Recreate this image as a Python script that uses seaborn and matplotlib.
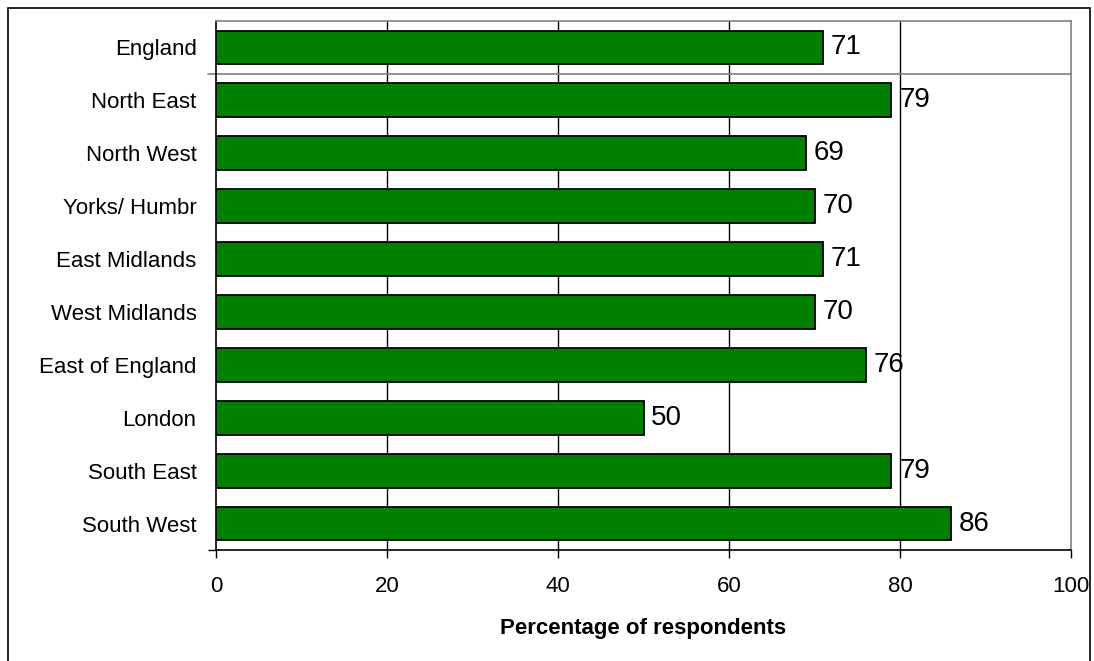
import matplotlib
matplotlib.use("Agg")
import matplotlib.pyplot as plt
from matplotlib.patches import Rectangle
import seaborn as sns
import pandas as pd

regions = ["England", "North East", "North West", "Yorks/ Humbr", "East Midlands",
           "West Midlands", "East of England", "London", "South East", "South West"]
percentages = [71, 79, 69, 70, 71, 70, 76, 50, 79, 86]
x_ticks = [0, 20, 40, 60, 80, 100]

df = pd.DataFrame({"region": regions, "pct": percentages})

sns.set_theme(style="white")
plt.rcParams["font.family"] = ["Liberation Sans", "DejaVu Sans"]
plt.rcParams["text.color"] = "black"
plt.rcParams["axes.labelcolor"] = "black"
plt.rcParams["xtick.color"] = "black"
plt.rcParams["ytick.color"] = "black"

fig = plt.figure(figsize=(10.94, 6.61), dpi=100)
ax = fig.add_axes([216 / 1094, 1 - 550 / 661, (1071 - 216) / 1094, (550 - 21) / 661])

sns.barplot(data=df, x="pct", y="region", orient="h", order=regions,
            color="#007F00", saturation=1, edgecolor="black", linewidth=1.3,
            width=0.64, ax=ax, zorder=3)

ax.set_xlim(0, 100)
ax.set_ylim(len(regions) - 0.5, -0.5)
ax.set_xticks(x_ticks)
ax.set_xticklabels([str(t) for t in x_ticks], fontsize=16)
ax.tick_params(axis="x", direction="out", length=5.5, width=1, color="black",
               labelcolor="black", pad=13, bottom=True)
ax.tick_params(axis="y", length=0, pad=14, labelsize=16, labelcolor="black")
ax.set_yticks([len(regions) - 0.5], minor=True)
ax.tick_params(axis="y", which="minor", direction="out", length=6, width=1,
               color="black", left=True)
ax.set_ylabel("")
ax.set_xlabel("Percentage of respondents", fontsize=16, fontweight="bold",
              labelpad=15, color="black")

# vertical gridlines behind the bars
for t in x_ticks[1:-1]:
    ax.axvline(t, color="black", linewidth=1, zorder=1)

# separator between the national total and the regions
ax.axhline(0.5, xmin=-8 / 855, xmax=1, color="#808080", linewidth=1.2,
           clip_on=False, zorder=2)

for side in ["top", "right"]:
    ax.spines[side].set_color("#808080")
    ax.spines[side].set_linewidth(1.2)
for side in ["left", "bottom"]:
    ax.spines[side].set_color("black")
    ax.spines[side].set_linewidth(1.2)
for sp in ax.spines.values():
    sp.set_visible(True)

# value labels next to each bar end
for i, v in enumerate(percentages):
    ax.text(v + 0.9, i, f"{v}", va="center", ha="left", fontsize=20,
            color="black", zorder=0.5)

# outer frame around the whole chart
fig.patches.append(Rectangle((8 / 1094, -0.05), (1090 - 8) / 1094, 1 - 8 / 661 + 0.05,
                             transform=fig.transFigure, fill=False,
                             edgecolor="black", linewidth=1.2))

fig.savefig("out.png", dpi=100)
